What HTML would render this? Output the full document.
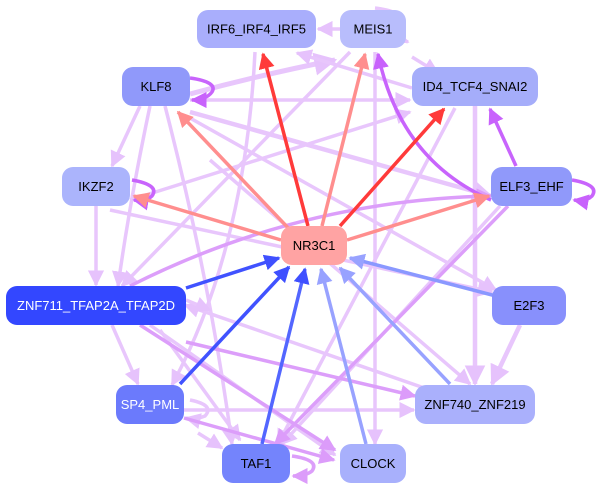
<!DOCTYPE html>
<html><head><meta charset="utf-8"><style>
html,body{margin:0;padding:0;background:#fff;}
svg{display:block;}
text{font-family:"Liberation Sans",sans-serif;font-size:13px;text-anchor:middle;dominant-baseline:central;}
</style></head><body>
<svg width="606" height="495" viewBox="0 0 606 495" xmlns="http://www.w3.org/2000/svg">
<defs>
<marker id="lp" viewBox="0 0 10 10" refX="9" refY="5" markerWidth="4.6" markerHeight="4.6" orient="auto"><path d="M0,0L10,5L0,10z" fill="#e6c2fc"/></marker>
<marker id="mp" viewBox="0 0 10 10" refX="9" refY="5" markerWidth="4.6" markerHeight="4.6" orient="auto"><path d="M0,0L10,5L0,10z" fill="#dc9cfa"/></marker>
<marker id="sp" viewBox="0 0 10 10" refX="9" refY="5" markerWidth="4.6" markerHeight="4.6" orient="auto"><path d="M0,0L10,5L0,10z" fill="#c862fc"/></marker>
<marker id="rd" viewBox="0 0 10 10" refX="9" refY="5" markerWidth="4.6" markerHeight="4.6" orient="auto"><path d="M0,0L10,5L0,10z" fill="#ff3a3a"/></marker>
<marker id="sa" viewBox="0 0 10 10" refX="9" refY="5" markerWidth="4.6" markerHeight="4.6" orient="auto"><path d="M0,0L10,5L0,10z" fill="#ff8e8e"/></marker>
<marker id="bl" viewBox="0 0 10 10" refX="9" refY="5" markerWidth="4.6" markerHeight="4.6" orient="auto"><path d="M0,0L10,5L0,10z" fill="#3f50ff"/></marker>
<marker id="lb" viewBox="0 0 10 10" refX="9" refY="5" markerWidth="4.6" markerHeight="4.6" orient="auto"><path d="M0,0L10,5L0,10z" fill="#98a2ff"/></marker>
</defs>
<g fill="none" stroke-width="3.5">
<g stroke="#e8c6fc" marker-end="url(#lp)">
<line x1="340" y1="29" x2="318" y2="29"/>
<line x1="412" y1="57" x2="438" y2="73"/>
<path d="M190,94 Q260,75 335,60" stroke-width="5"/>
<line x1="412" y1="88" x2="297" y2="53"/>
<line x1="190" y1="100" x2="410" y2="100"/>
<line x1="140" y1="106" x2="112" y2="166"/>
<path d="M150,106 Q130,200 118,286"/>
<path d="M165,106 Q210,280 232,444"/>
<line x1="190" y1="112" x2="491" y2="196" stroke-width="4.5"/>
<line x1="190" y1="118" x2="496" y2="290"/>
<path d="M255,52 Q245,250 172,385"/>
<line x1="350" y1="52" x2="122" y2="286"/>
<line x1="375" y1="52" x2="375" y2="444"/>
<line x1="130" y1="200" x2="410" y2="112"/>
<line x1="96" y1="206" x2="96" y2="285"/>
<line x1="112" y1="325" x2="138" y2="384"/>
<line x1="150" y1="325" x2="335" y2="455"/>
<line x1="184" y1="410" x2="414" y2="410"/>
<line x1="198" y1="433" x2="222" y2="448"/>
<line x1="475" y1="106" x2="475" y2="384" stroke-width="4.5"/>
<line x1="520" y1="325" x2="492" y2="384" stroke-width="4.5"/>
<line x1="455" y1="108" x2="278" y2="444"/>
<line x1="500" y1="206" x2="282" y2="444"/>
<line x1="110" y1="210" x2="492" y2="292"/>
<line x1="430" y1="390" x2="185" y2="305"/>
<line x1="186" y1="300" x2="210" y2="310"/>
<line x1="160" y1="330" x2="240" y2="440"/>
<line x1="210" y1="160" x2="470" y2="384"/>
<path d="M375,8 Q410,12 402,30 Q398,38 408,42"/>
<path d="M190,400 Q215,405 205,416 Q195,420 186,418"/>
</g>
<g stroke="#dc9efa" marker-end="url(#mp)">
<line x1="186" y1="342" x2="415" y2="396"/>
<path d="M130,286 Q300,200 491,196"/>
<line x1="184" y1="418" x2="334" y2="460"/>
<line x1="140" y1="325" x2="335" y2="450"/>
<line x1="508" y1="206" x2="275" y2="444"/>
</g>
<g stroke="#c864fc" marker-end="url(#sp)">
<path d="M491,200 Q400,160 378,54"/>
<line x1="516" y1="166" x2="490" y2="109"/>
<path d="M190,78 Q218,82 212,92 Q206,100 192,100"/>
<path d="M132,180 Q160,185 152,196 Q146,202 134,200"/>
<path d="M572,180 Q600,185 592,196 Q586,202 574,200"/>
<path d="M292,456 Q320,460 312,471 Q306,476 293,476" stroke="#dc9efa" marker-end="url(#mp)"/>
</g>
<g stroke="#ff8e8e" marker-end="url(#sa)">
<line x1="292" y1="232" x2="178" y2="112"/>
<line x1="322" y1="226" x2="365" y2="54"/>
<line x1="281" y1="240" x2="134" y2="196"/>
<line x1="347" y1="240" x2="489" y2="196"/>
</g>
<g stroke="#ff3a3a" marker-end="url(#rd)">
<line x1="308" y1="226" x2="263" y2="54"/>
<line x1="340" y1="226" x2="444" y2="109"/>
</g>
<g marker-end="url(#bl)" stroke="#4052ff">
<line x1="186" y1="288" x2="279" y2="258"/>
<line x1="180" y1="384" x2="289" y2="267"/>
<line x1="262" y1="444" x2="305" y2="269" stroke="#5366ff"/>
</g>
<g marker-end="url(#lb)" stroke="#98a2ff">
<line x1="366" y1="444" x2="321" y2="269"/>
<line x1="450" y1="384" x2="340" y2="268"/>
<line x1="496" y1="296" x2="350" y2="258" stroke="#8a98ff"/>
</g>
</g>
<g>
<rect x="197" y="10" width="119" height="38" rx="11" fill="#a9aefc"/><text x="256.5" y="29">IRF6_IRF4_IRF5</text>
<rect x="340" y="10" width="66" height="38" rx="11" fill="#b8bdfc"/><text x="373" y="29">MEIS1</text>
<rect x="122" y="67" width="68" height="39" rx="11" fill="#9099fa"/><text x="156" y="86.5">KLF8</text>
<rect x="412" y="67" width="126" height="39" rx="11" fill="#a5adfa"/><text x="475" y="86.5">ID4_TCF4_SNAI2</text>
<rect x="62" y="167" width="68" height="39" rx="11" fill="#abb4fc"/><text x="96" y="186.5">IKZF2</text>
<rect x="491" y="167" width="81" height="39" rx="11" fill="#9099fa"/><text x="531.5" y="186.5">ELF3_EHF</text>
<rect x="281" y="226" width="66" height="39" rx="11" fill="#ffa3a3"/><text x="314" y="245.5">NR3C1</text>
<rect x="6" y="286" width="180" height="39" rx="11" fill="#3347ff"/><text x="96" y="305.5" fill="#fff">ZNF711_TFAP2A_TFAP2D</text>
<rect x="492" y="286" width="74" height="39" rx="11" fill="#8890fc"/><text x="529" y="305.5">E2F3</text>
<rect x="116" y="385" width="68" height="39" rx="11" fill="#6b7afc"/><text x="150" y="404.5" fill="#fff">SP4_PML</text>
<rect x="415" y="385" width="120" height="39" rx="11" fill="#aab0fc"/><text x="475" y="404.5">ZNF740_ZNF219</text>
<rect x="222" y="444" width="68" height="39" rx="11" fill="#7484fc"/><text x="256" y="463.5">TAF1</text>
<rect x="340" y="444" width="66" height="39" rx="11" fill="#a8b0fc"/><text x="373" y="463.5">CLOCK</text>
</g>
</svg>
</body></html>
